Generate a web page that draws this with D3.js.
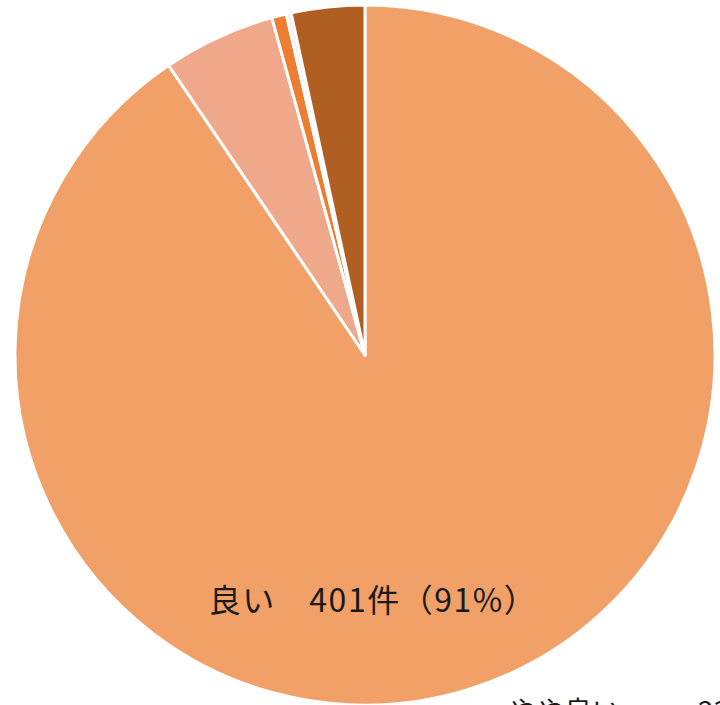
<!DOCTYPE html>
<html>
<head>
<meta charset="utf-8">
<script src="https://cdnjs.cloudflare.com/ajax/libs/d3/7.8.5/d3.min.js"></script>
<style>
  body { margin: 0; background: #fff; overflow: hidden; }
  text { font-family: "Noto Sans CJK JP", "Noto Sans", sans-serif; }
</style>
</head>
<body>
<div id="chart"></div>
<script>
var categories = ["良い", "やや良い", "普通", "やや悪い", "悪い"];
var counts = [401, 23, 3, 1, 15];
var colors = ["#F1A068", "#F0A88A", "#ED7D31", "#FCEBDF", "#B05E22"];

var width = 720, height = 705;
var cx = 365, cy = 355, radius = 350;
var total = d3.sum(counts);

var svg = d3.select("#chart")
    .append("svg")
    .attr("width", width)
    .attr("height", height);

var pie = d3.pie().sort(null).value(function (d) { return d; });
var arc = d3.arc().innerRadius(0).outerRadius(radius);

var g = svg.append("g").attr("transform", "translate(" + cx + "," + cy + ")");

g.selectAll("path")
    .data(pie(counts))
    .join("path")
    .attr("d", arc)
    .attr("fill", function (d, i) { return colors[i]; })
    .attr("stroke", "#fff")
    .attr("stroke-width", 3)
    .attr("stroke-linejoin", "round");

function pct(i) {
    return Math.round(counts[i] / total * 100);
}

// main label inside the big slice
g.append("text")
    .attr("x", 8)
    .attr("y", radius * 0.735)
    .attr("text-anchor", "middle")
    .attr("font-size", 32)
    .attr("letter-spacing", 1.5)
    .attr("fill", "#1a1a1a")
    .text(categories[0] + "\u3000" + counts[0] + "件（" + pct(0) + "%）");

// next label, cut off at the bottom edge like the reference
var t2 = svg.append("text")
    .attr("y", 722)
    .attr("font-size", 28)
    .attr("fill", "#1a1a1a");
t2.append("tspan").attr("x", 508).text(categories[1]);
t2.append("tspan").attr("x", 698).text(counts[1] + "件（" + pct(1) + "%）");
</script>
</body>
</html>
